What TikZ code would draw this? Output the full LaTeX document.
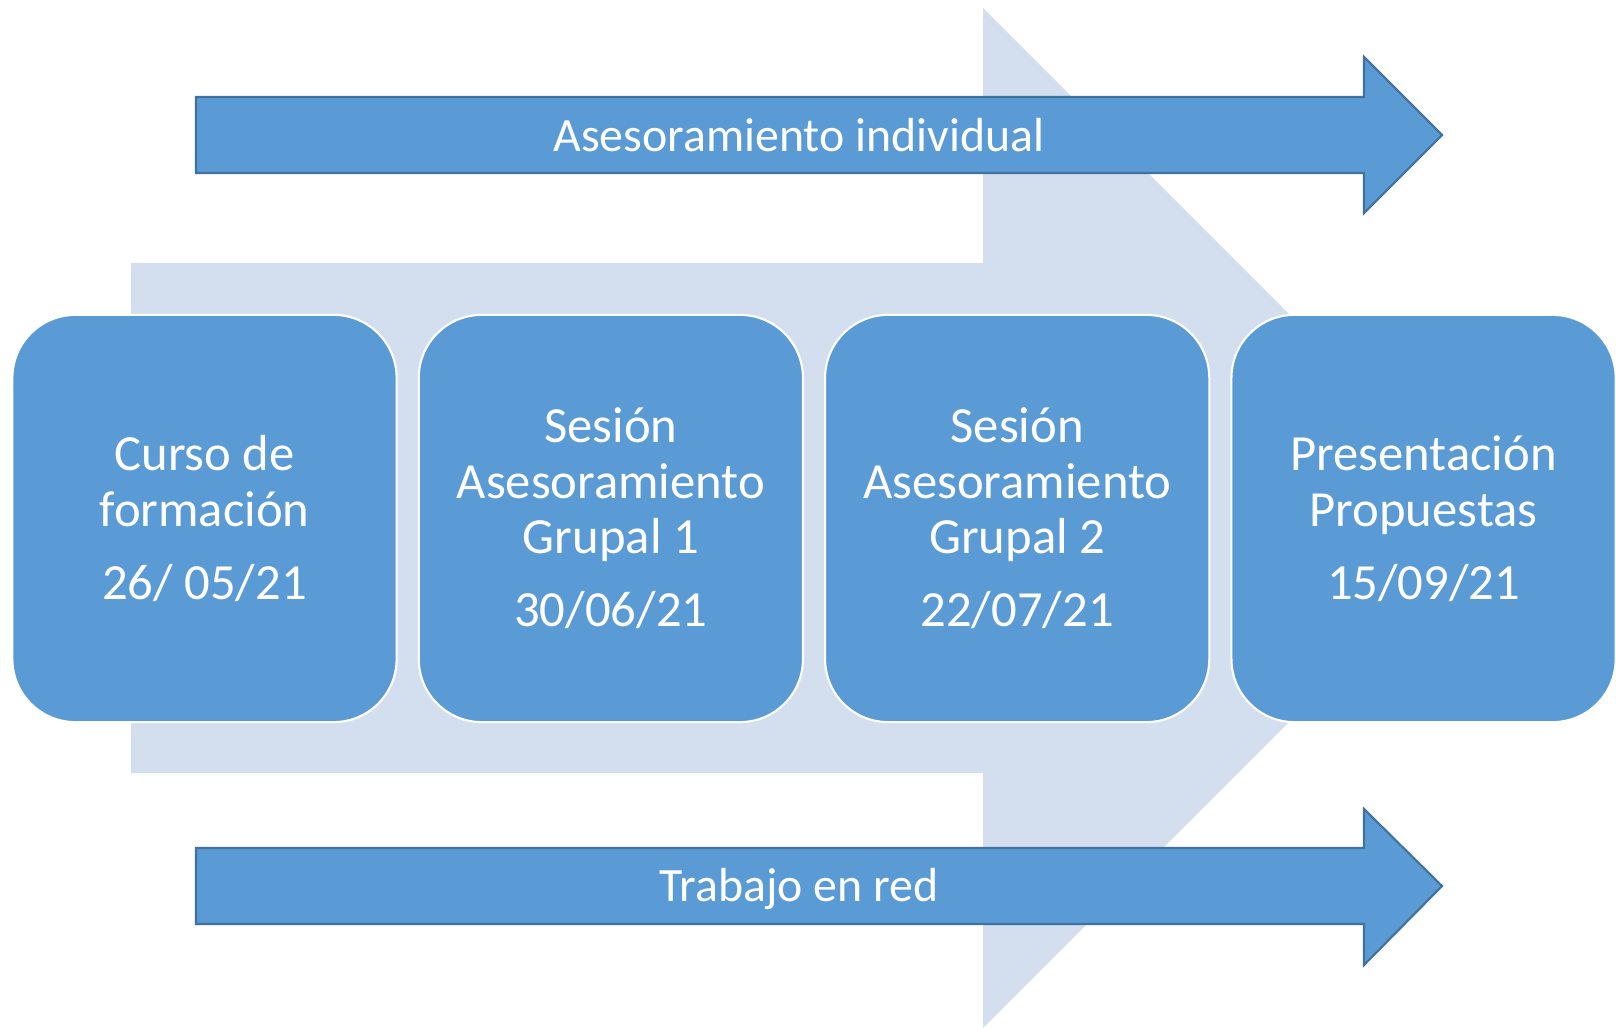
\documentclass[tikz,border=0pt]{standalone}
\usepackage{fontspec}
\setmainfont{Carlito}
\usetikzlibrary{positioning}
\definecolor{boxblue}{HTML}{5B9BD5}
\definecolor{edgeblue}{HTML}{41719C}
\definecolor{paleblue}{HTML}{D3DEEF}

\begin{document}
\begin{tikzpicture}[x=0.01cm,y=-0.01cm,
    stagebox/.style={rectangle,rounded corners=6.3mm,fill=boxblue,draw=white,line width=0.6pt,
      minimum width=3.84cm,minimum height=4.07cm,text=white,align=center,
      font=\fontsize{14.4}{15.8}\selectfont},
    bandarrow/.style={fill=boxblue,draw=edgeblue,line width=0.6pt},
    bandtext/.style={text=white,font=\fontsize{13.6}{15.6}\selectfont}]
  \useasboundingbox (0,0) rectangle (1616,1028);
  % big pale arrow behind
  \fill[paleblue] (131,263)--(983,263)--(983,8)--(1493,518)--(983,1028)--(983,773)--(131,773)--cycle;
  % top and bottom arrows
  \draw[bandarrow] (196,97)--(1364,97)--(1364,57)--(1442,135)--(1364,213)--(1364,173)--(196,173)--cycle;
  \node[bandtext] (indiv) at (799,135) {Asesoramiento individual};
  \draw[bandarrow] (196,848)--(1364,848)--(1364,809)--(1442,886)--(1364,965)--(1364,924)--(196,924)--cycle;
  \node[bandtext] (red) at (799,889) {Trabajo en red};
  % stages
  \node[stagebox] (curso) at (204.5,518.5) {Curso de\\formación\\[5pt]26/ 05/21};
  \node[stagebox,right=0.2cm of curso] (grupal1) {Sesión\\Asesoramiento\\Grupal 1\\[5pt]30/06/21};
  \node[stagebox,right=0.2cm of grupal1] (grupal2) {Sesión\\Asesoramiento\\Grupal 2\\[5pt]22/07/21};
  \node[stagebox,right=0.2cm of grupal2] (present) {Presentación\\Propuestas\\[5pt]15/09/21};
\end{tikzpicture}
\end{document}
